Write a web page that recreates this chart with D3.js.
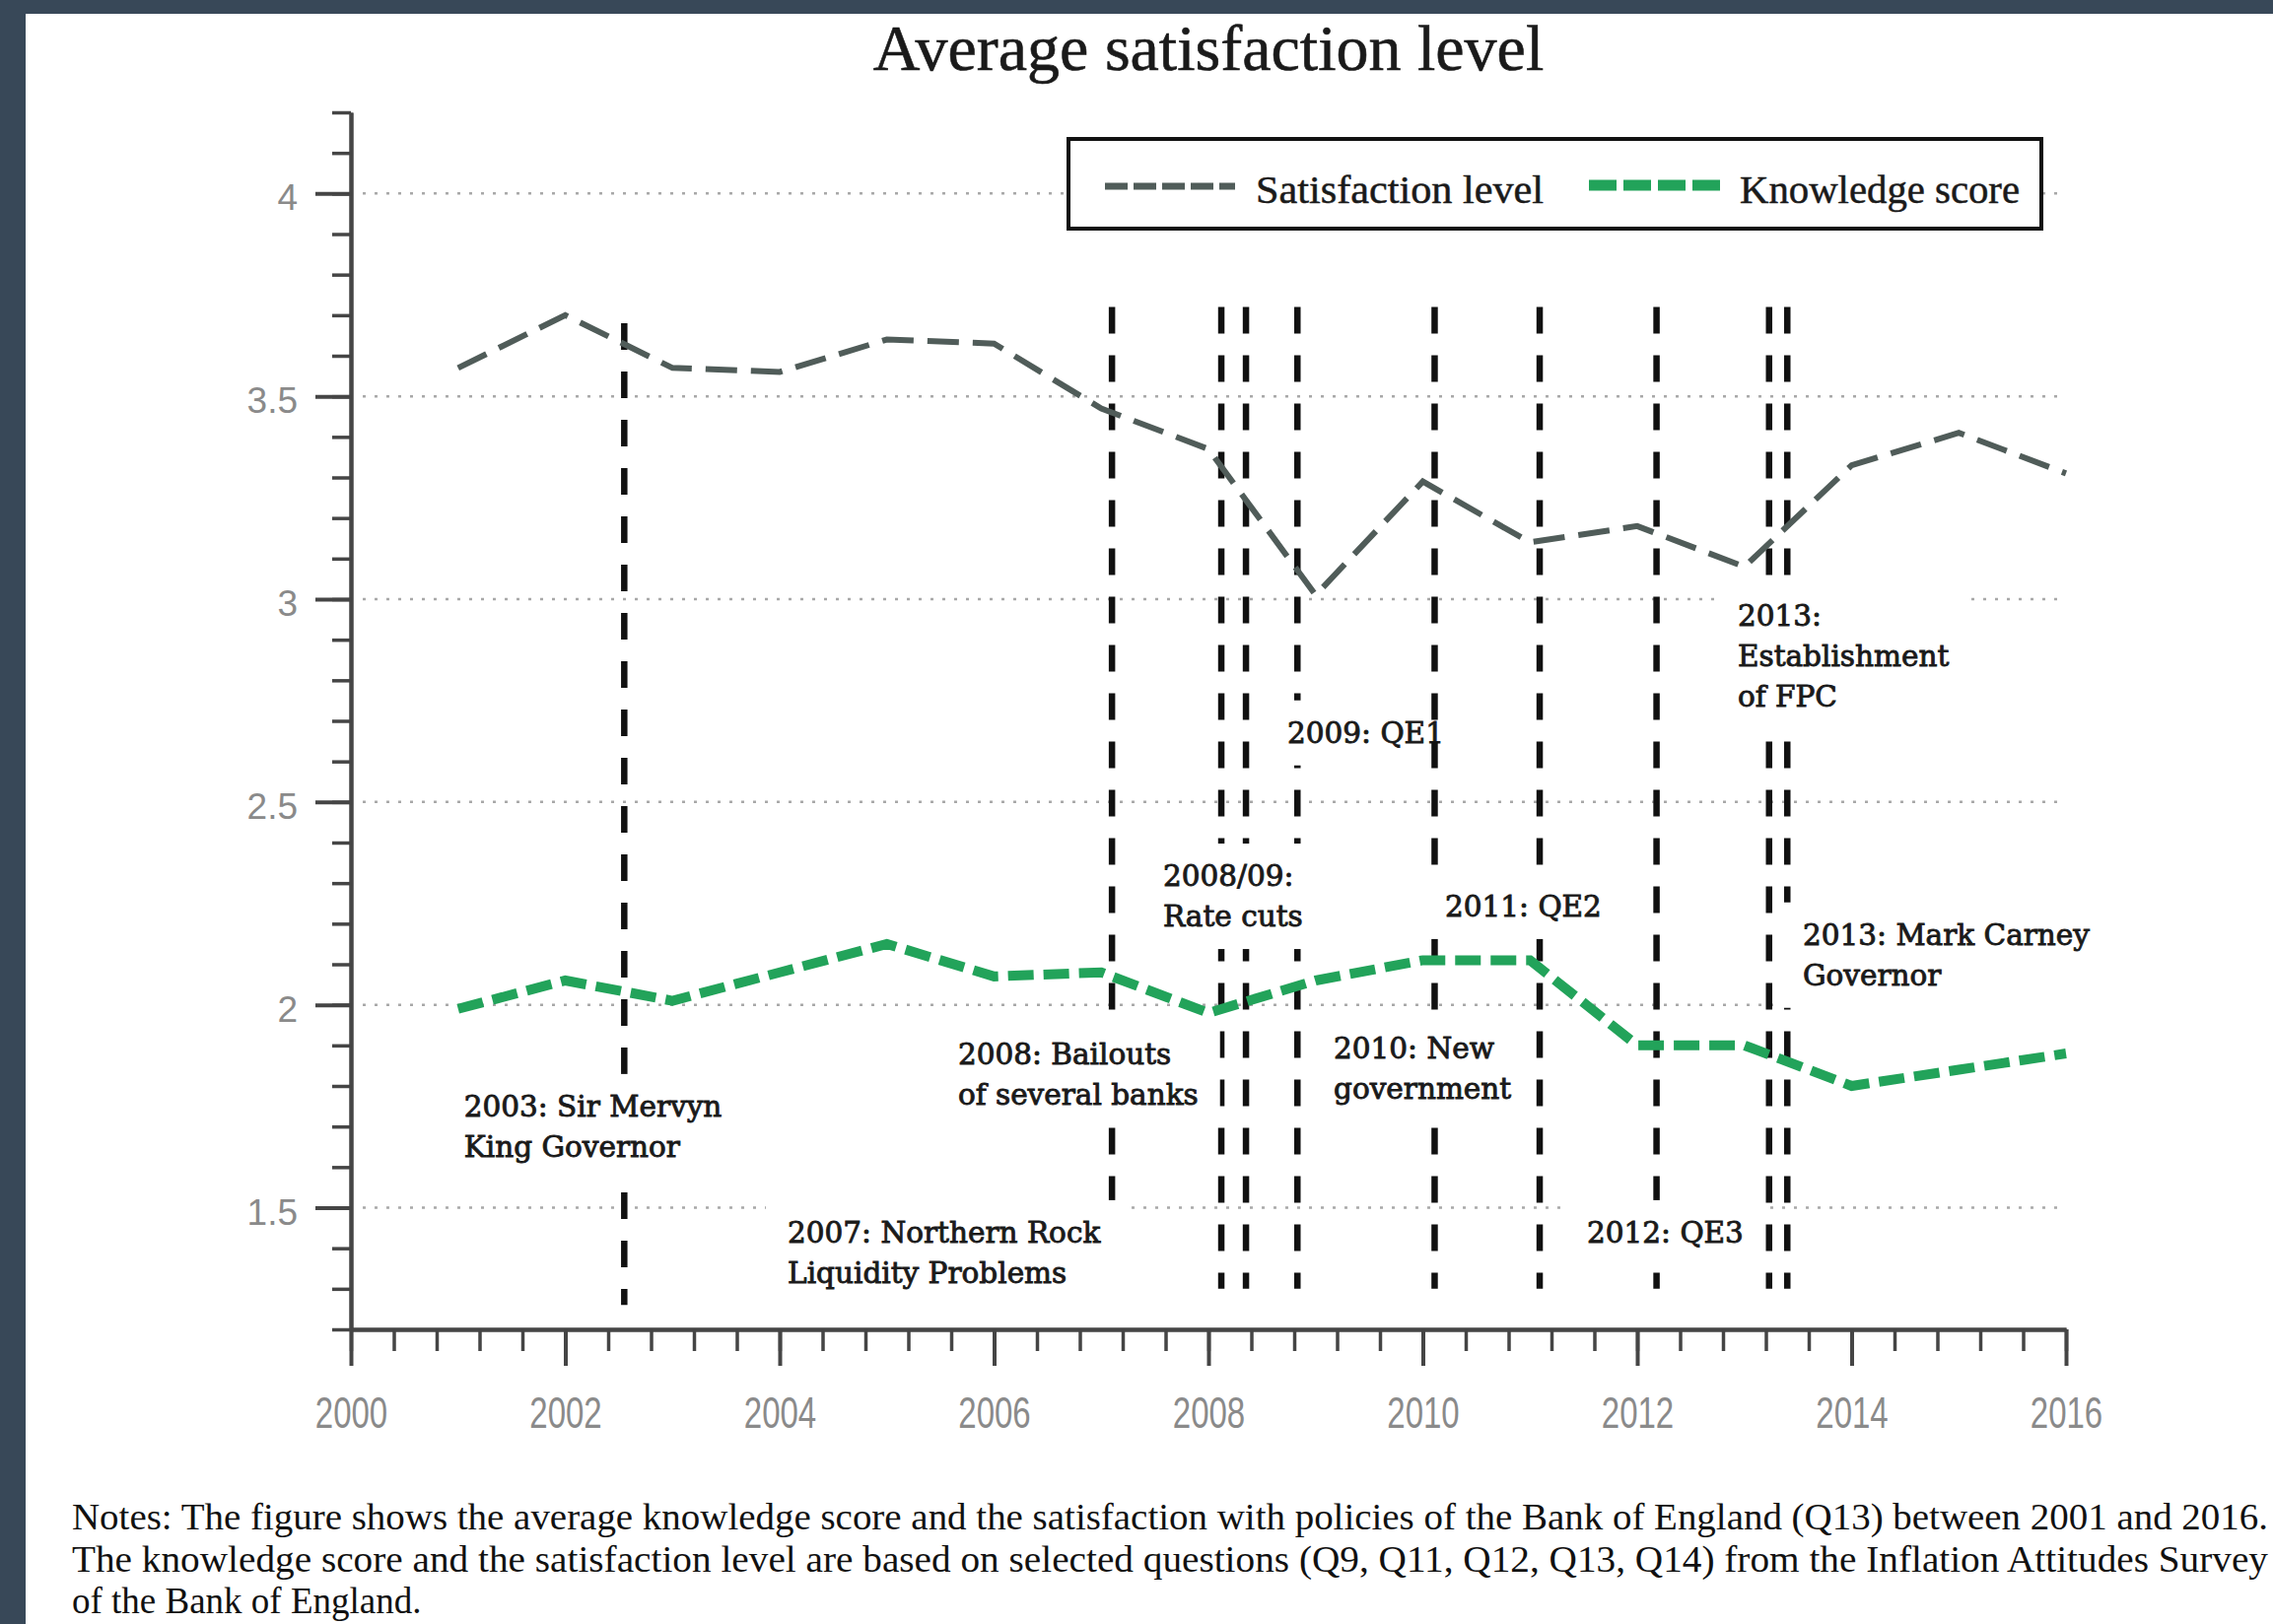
<!DOCTYPE html>
<html><head><meta charset="utf-8">
<script src="https://cdn.jsdelivr.net/npm/d3@7"></script>
<style>body{margin:0;background:#384858;} svg{display:block}</style>
</head><body>
<svg id="chart" width="2306" height="1648"></svg>
<script>
// ---- data ----
const years = [2001,2002,2003,2004,2005,2006,2007,2008,2009,2010,2011,2012,2013,2014,2015,2016];
const satisfaction = [3.57,3.70,3.57,3.56,3.64,3.63,3.47,3.37,3.01,3.29,3.14,3.18,3.08,3.33,3.41,3.31];
const knowledge = [1.99,2.06,2.01,2.08,2.15,2.07,2.08,1.98,2.06,2.11,2.11,1.90,1.90,1.80,1.84,1.88];
const yTickValues = [1.5,2,2.5,3,3.5,4];
const yTickLabels = ["1.5","2","2.5","3","3.5","4"];
const xTickValues = [2000,2002,2004,2006,2008,2010,2012,2014,2016];
const xTickLabels = ["2000","2002","2004","2006","2008","2010","2012","2014","2016"];
const seriesNames = ["Satisfaction level","Knowledge score"];
// event lines (year positions) with their value range, and annotation text anchored in data units
const eventLines = [[2002.55],[2007.10],[2008.12],[2008.35,2008.83],[],[2010.11],[2011.09],[2012.18],[2013.23,2013.40],[]];
const eventRanges = [[1.26,3.68],[1.30,3.72],[1.30,3.72],[1.30,3.72],[],[1.30,3.72],[1.30,3.72],[1.30,3.72],[1.30,3.72],[]];
const eventText = [
  ["2003: Sir Mervyn","King Governor"],
  ["2007: Northern Rock","Liquidity Problems"],
  ["2008: Bailouts","of several banks"],
  ["2008/09:","Rate cuts"],
  ["2009: QE1"],
  ["2010: New","government"],
  ["2011: QE2"],
  ["2012: QE3"],
  ["2013:","Establishment","of FPC"],
  ["2013: Mark Carney","Governor"]
];
const eventAnchorX = [2001.055,2004.074,2005.664,2007.577,2008.736,2009.168,2010.207,2011.531,2012.938,2013.545];
const eventAnchorY = [1.725,1.414,1.854,2.293,2.646,1.868,2.218,1.414,2.935,2.148];
const titleText = "Average satisfaction level";
const notes = [
 "Notes: The figure shows the average knowledge score and the satisfaction with policies of the Bank of England (Q13) between 2001 and 2016.",
 "The knowledge score and the satisfaction level are based on selected questions (Q9, Q11, Q12, Q13, Q14) from the Inflation Attitudes Survey",
 "of the Bank of England."
];

// ---- layout ----
const W=2306,H=1648;
const svg=d3.select("#chart");
const x=d3.scaleLinear().domain([2000,2016]).range([356,2096]);
const y=d3.scaleLinear().domain([1.2,4.2]).range([1349,114]);
const GRAY="#505c59", GREEN="#22a35a";

svg.append("rect").attr("width",W).attr("height",H).attr("fill","#384858");
svg.append("rect").attr("x",26).attr("y",14).attr("width",W-26).attr("height",H-14).attr("fill","#fff");

svg.append("text").attr("x",1226).attr("y",71).attr("text-anchor","middle")
  .attr("font-family","Liberation Serif").attr("font-size",66).attr("fill","#1a1a1a")
  .attr("stroke","#1a1a1a").attr("stroke-width",0.6).text(titleText);

// gridlines
svg.append("g").selectAll("line").data(yTickValues).join("line")
  .attr("x1",x(2000)+12).attr("x2",x(2016)).attr("y1",d=>y(d)).attr("y2",d=>y(d))
  .attr("stroke","#a8a8a8").attr("stroke-width",2.5).attr("stroke-dasharray","3 9");

// event lines and labels, drawn in order
const ev=svg.append("g");
const LH=41;
eventText.forEach((lines,i)=>{
  eventLines[i].forEach(yr=>{
    ev.append("line").attr("x1",x(yr)).attr("x2",x(yr))
      .attr("y1",y(eventRanges[i][1])).attr("y2",y(eventRanges[i][0]))
      .attr("stroke","#111").attr("stroke-width",6.5).attr("stroke-dasharray","27 22");
  });
  const g=ev.append("g");
  const bg=g.append("rect").attr("fill","#fff");
  const t=g.append("text").attr("font-family","DejaVu Serif").attr("font-size",29.5)
    .attr("fill","#1a1a1a").attr("stroke","#1a1a1a").attr("stroke-width",0.9);
  lines.forEach((s,j)=>{
    t.append("tspan").attr("x",x(eventAnchorX[i])).attr("y",y(eventAnchorY[i])+j*LH).text(s);
  });
  const bb=t.node().getBBox();
  bg.attr("x",bb.x-22).attr("y",bb.y-16).attr("width",bb.width+44).attr("height",bb.height+32);
});

// data lines
const line=d3.line().x((d,i)=>x(years[i])).y(d=>y(d));
svg.append("path").datum(satisfaction).attr("d",line).attr("fill","none")
  .attr("stroke",GRAY).attr("stroke-width",6).attr("stroke-dasharray","32 14");
svg.append("path").datum(knowledge).attr("d",line).attr("fill","none")
  .attr("stroke",GREEN).attr("stroke-width",10).attr("stroke-dasharray","26 10");

// axes
function styleAxis(g,w){g.select(".domain").attr("stroke","#454545").attr("stroke-width",4);
  g.selectAll(".tick line").attr("stroke","#454545").attr("stroke-width",w);}
const yMinor=d3.range(12,43).map(d=>d/10);
svg.append("g").attr("transform",`translate(${x(2000)},0)`)
  .call(d3.axisLeft(y).tickValues(yMinor).tickSize(19).tickSizeOuter(0).tickFormat(""))
  .call(g=>styleAxis(g,3.5));
const ya=svg.append("g").attr("transform",`translate(${x(2000)},0)`)
  .call(d3.axisLeft(y).tickValues(yTickValues).tickSize(36).tickSizeOuter(0).tickPadding(18)
    .tickFormat((d,i)=>yTickLabels[i]))
  .call(g=>styleAxis(g,4));
ya.selectAll("text").attr("font-family","Liberation Sans").attr("font-size",37).attr("fill","#8a8a8a").attr("dy","0.45em");
const xMinor=d3.range(0,41).map(i=>2000+i*0.4);
svg.append("g").attr("transform",`translate(0,${y(1.2)})`)
  .call(d3.axisBottom(x).tickValues(xMinor).tickSize(22).tickSizeOuter(0).tickFormat(""))
  .call(g=>styleAxis(g,3.5));
const xa=svg.append("g").attr("transform",`translate(0,${y(1.2)})`)
  .call(d3.axisBottom(x).tickValues(xTickValues).tickSize(37).tickSizeOuter(0).tickPadding(32)
    .tickFormat((d,i)=>xTickLabels[i]))
  .call(g=>styleAxis(g,4));
xa.selectAll("text").attr("font-family","Liberation Sans").attr("font-size",44).attr("fill","#8a8a8a")
  .each(function(){const L=this.getComputedTextLength();d3.select(this).attr("textLength",L*0.75).attr("lengthAdjust","spacingAndGlyphs");});

// legend
const lg=svg.append("g");
lg.append("rect").attr("x",1084).attr("y",141).attr("width",987).attr("height",91)
  .attr("fill","#fff").attr("stroke","#111").attr("stroke-width",4);
lg.append("line").attr("x1",1121).attr("x2",1253).attr("y1",189).attr("y2",189)
  .attr("stroke",GRAY).attr("stroke-width",7).attr("stroke-dasharray","23 6");
lg.append("line").attr("x1",1612).attr("x2",1746).attr("y1",188).attr("y2",188)
  .attr("stroke",GREEN).attr("stroke-width",11).attr("stroke-dasharray","28 7");
lg.append("text").attr("x",1274).attr("y",206).attr("font-family","Liberation Serif").attr("font-size",40)
  .attr("fill","#1a1a1a").attr("stroke","#1a1a1a").attr("stroke-width",0.5)
  .attr("textLength",292).attr("lengthAdjust","spacingAndGlyphs").text(seriesNames[0]);
lg.append("text").attr("x",1765).attr("y",206).attr("font-family","Liberation Serif").attr("font-size",40)
  .attr("fill","#1a1a1a").attr("stroke","#1a1a1a").attr("stroke-width",0.5)
  .attr("textLength",284).attr("lengthAdjust","spacingAndGlyphs").text(seriesNames[1]);

// notes
const nb=[1552,1595,1637];
notes.forEach((s,i)=>{
  const t=svg.append("text").attr("x",73).attr("y",nb[i]).attr("font-family","Liberation Serif")
    .attr("font-size",37).attr("fill","#111").text(s);
  if(i<2) t.attr("textLength",2228).attr("lengthAdjust","spacingAndGlyphs");
});
</script>
</body></html>
